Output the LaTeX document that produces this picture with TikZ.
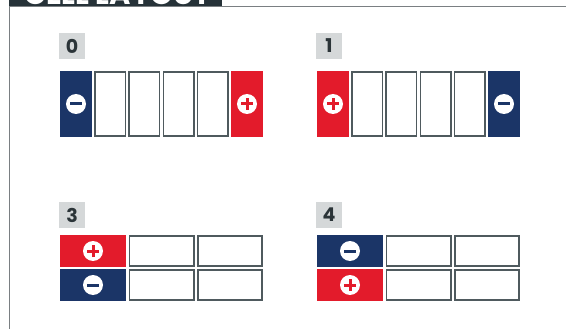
\documentclass[tikz,border=0pt]{standalone}
\usepackage{fontspec}
\setmainfont{Poppins}
\definecolor{navy}{HTML}{1B3567}
\definecolor{termred}{HTML}{E31B2B}
\definecolor{cellgray}{HTML}{4F5A5E}
\definecolor{taggray}{HTML}{D5D8D9}
\definecolor{digitdark}{HTML}{2B3438}
\definecolor{bardark}{HTML}{263238}
\definecolor{framegray}{HTML}{7A7F82}
\begin{document}
\begin{tikzpicture}[x=1pt,y=-1pt,
    tag/.style={fill=taggray, minimum size=26, inner sep=0, text=digitdark,
      font=\fontsize{19}{19}\selectfont\bfseries},
    cell/.style={draw=cellgray, fill=white, line width=1.6, inner sep=0},
    tallcell/.style={cell, minimum width=30.4, minimum height=64.4},
    widecell/.style={cell, minimum width=64.4, minimum height=30.4},
    negterm/.style={fill=navy, inner sep=0},
    posterm/.style={fill=termred, inner sep=0},
    tallterm/.style={minimum width=32, minimum height=66},
    wideterm/.style={minimum width=66, minimum height=32},
    sign/.style={circle, fill=white, minimum size=20, inner sep=0},
    bar/.style={line width=3}]
  \useasboundingbox (0,0) rectangle (566,329);
  \clip (0,0) rectangle (566,329);

  % heading bar and frame
  \fill[bardark] (9,-1) rectangle (222,5.7);
  \node[anchor=base west, inner sep=0, text=white,
    font=\fontsize{29}{29}\selectfont\bfseries] (title) at (24,4.3) {CELL LAYOUT};
  \draw[framegray, line width=1] (9.5,330) -- (9.5,6.2) -- (567,6.2);

  % layout 0
  \node[tag] (t0) at (72,46) {0};
  \node[negterm, tallterm] (n0) at (76,104) {};
  \foreach \i in {1,...,4}
    \node[tallcell] (c0-\i) at (76+34.2*\i,104) {};
  \node[posterm, tallterm] (p0) at (247,104) {};

  % layout 1
  \node[tag] (t1) at (329,46) {1};
  \node[posterm, tallterm] (p1) at (333,104) {};
  \foreach \i in {1,...,4}
    \node[tallcell] (c1-\i) at (333+34.2*\i,104) {};
  \node[negterm, tallterm] (n1) at (504,104) {};

  % layout 3
  \node[tag] (t3) at (72,215) {3};
  \node[posterm, wideterm] (p3) at (93,251) {};
  \node[negterm, wideterm] (n3) at (93,285) {};
  \foreach \i in {1,2}{
    \node[widecell] (c3-a\i) at (93+68.5*\i,251) {};
    \node[widecell] (c3-b\i) at (93+68.5*\i,285) {};
  }

  % layout 4
  \node[tag] (t4) at (329,215) {4};
  \node[negterm, wideterm] (n4) at (350,251) {};
  \node[posterm, wideterm] (p4) at (350,285) {};
  \foreach \i in {1,2}{
    \node[widecell] (c4-a\i) at (350+68.5*\i,251) {};
    \node[widecell] (c4-b\i) at (350+68.5*\i,285) {};
  }

  % terminal signs
  \foreach \t in {n0,n1,n3,n4}{
    \node[sign] (s\t) at (\t) {};
    \draw[bar, navy] ([xshift=-6]s\t.center) -- ([xshift=6]s\t.center);
  }
  \foreach \t in {p0,p1,p3,p4}{
    \node[sign] (s\t) at (\t) {};
    \draw[bar, termred] ([xshift=-6]s\t.center) -- ([xshift=6]s\t.center);
    \draw[bar, termred] ([yshift=-6]s\t.center) -- ([yshift=6]s\t.center);
  }
\end{tikzpicture}
\end{document}
